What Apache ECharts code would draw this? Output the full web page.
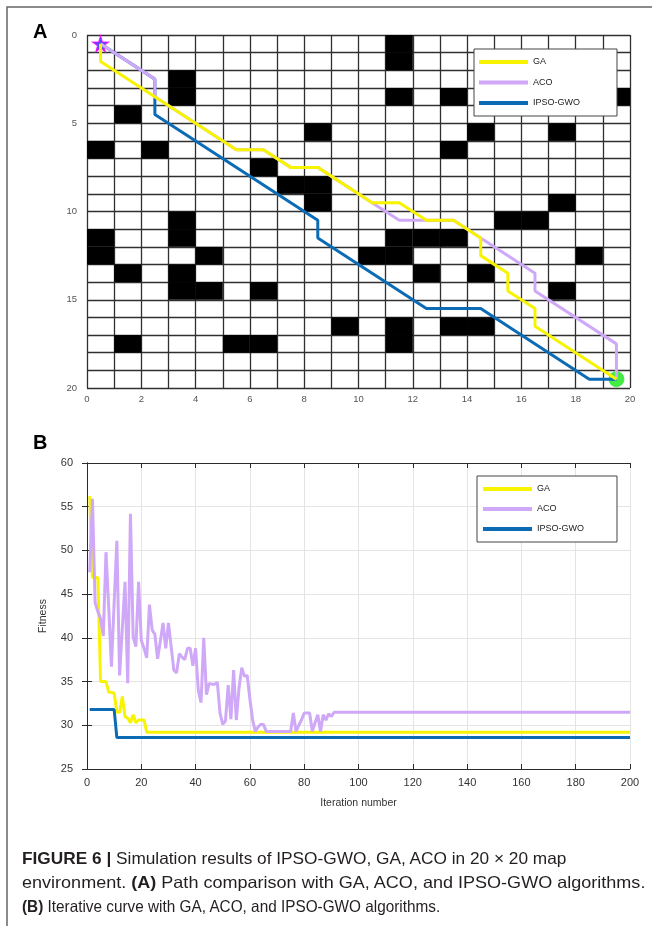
<!doctype html>
<html>
<head>
<meta charset="utf-8">
<title>IPSO-GWO path and fitness</title>
<style>
    html, body { margin: 0; padding: 0; background: #fff; }
    #main { position: absolute; left: 0; top: 0; width: 652px; height: 926px; }
    #caption {
        position: absolute; left: 22px; top: 846px;
        font-family: 'Liberation Sans', Arial, sans-serif;
        font-size: 16.5px; line-height: 24px; color: #231f20;
    }
    #caption .ln { white-space: nowrap; transform-origin: 0 0; height: 24px; }
    #caption .ln span { display: inline-block; }
</style>
</head>
<body>
<div id="main"></div>
<div id="caption">
    <div class="ln"><span><b>FIGURE 6 |</b> Simulation results of IPSO-GWO, GA, ACO in 20 × 20 map</span></div>
    <div class="ln"><span>environment. <b>(A)</b> Path comparison with GA, ACO, and IPSO-GWO algorithms.</span></div>
    <div class="ln"><span><b>(B)</b> Iterative curve with GA, ACO, and IPSO-GWO algorithms.</span></div>
</div>
<script src="https://cdn.jsdelivr.net/npm/echarts@6/dist/echarts.min.js"></script>
<script>
// map cells that are blocked, [column, row], row 0 at the top
var obstacles = [
    [11, 0], [11, 1], [3, 2], [3, 3], [11, 3], [13, 3], [19, 3], [1, 4],
    [8, 5], [14, 5], [17, 5], [0, 6], [2, 6], [13, 6], [6, 7], [7, 8], [8, 8],
    [8, 9], [17, 9], [3, 10], [15, 10], [16, 10], [0, 11], [3, 11], [11, 11],
    [12, 11], [13, 11], [0, 12], [4, 12], [10, 12], [11, 12], [18, 12],
    [1, 13], [3, 13], [12, 13], [14, 13], [3, 14], [4, 14], [6, 14], [17, 14],
    [9, 16], [11, 16], [13, 16], [14, 16], [1, 17], [5, 17], [6, 17], [11, 17]
];

// planned paths (cell centres)
var pathGA = [[0.5, 0.5], [0.5, 1.5], [5.5, 6.5], [6.5, 6.5], [7.5, 7.5], [8.5, 7.5],
    [10.5, 9.5], [11.5, 9.5], [12.5, 10.5], [13.5, 10.5], [14.5, 11.5], [14.5, 12.5],
    [15.5, 13.5], [15.5, 14.5], [16.5, 15.5], [16.5, 16.5], [19.5, 19.5]];
var pathACO = [[0.5, 0.5], [2.5, 2.5], [2.5, 3.5], [5.5, 6.5], [6.5, 6.5], [7.5, 7.5],
    [8.5, 7.5], [10.5, 9.5], [11.5, 10.5], [12.5, 10.5], [13.5, 10.5], [14.5, 11.5],
    [16.5, 13.5], [16.5, 14.5], [19.5, 17.5], [19.5, 19.5]];
var pathIPSO = [[0.5, 0.5], [2.5, 2.5], [2.5, 4.5], [8.5, 10.5], [8.5, 11.5],
    [12.5, 15.5], [14.5, 15.5], [18.5, 19.5], [19.5, 19.5]];
var startPoint = [[0.5, 0.5]];
var goalPoint = [[19.5, 19.5]];

// fitness per iteration, [iteration, fitness]
var fitGA = [[1, 56.2], [2, 46.9], [4, 46.9], [5, 35], [7, 35], [8, 33.8], [10, 33.7],
    [11, 31.5], [12, 31.5], [13, 33.3], [14, 31.0], [15, 30.8], [16, 30.3], [17, 31.2],
    [18, 30.3], [19, 30.6], [21, 30.6], [22, 29.2], [200, 29.2]];
var fitACO = [[1, 47.5], [2, 55.9], [3, 44.0], [4, 43.0], [5, 42.2], [6, 40.2], [7, 49.8],
    [8, 43.5], [9, 36.7], [10, 44.0], [11, 51.1], [12, 35.7], [13, 41.0], [14, 46.4],
    [15, 34.8], [16, 54.2], [17, 40.1], [18, 39.0], [19, 46.4], [20, 39.7], [21, 38.8],
    [22, 37.7], [23, 43.8], [24, 40.9], [25, 40.4], [26, 37.6], [27, 39.6], [28, 41.7],
    [29, 38.8], [30, 41.7], [31, 39.0], [32, 36.3], [33, 36.0], [34, 38.2], [35, 37.8],
    [36, 37.5], [37, 38.8], [38, 38.8], [39, 36.8], [40, 38.8], [41, 34.0], [42, 32.6],
    [43, 40.0], [44, 33.5], [45, 34.8], [46, 34.7], [47, 34.7], [48, 34.9], [49, 31.4],
    [50, 30.1], [51, 30.5], [52, 34.6], [53, 30.7], [54, 36.3], [55, 30.6], [56, 34.3],
    [57, 36.6], [58, 35.6], [59, 35.7], [60, 33.0], [61, 30.6], [62, 29.3], [63, 29.8],
    [64, 30.1], [65, 30.1], [66, 29.3], [75, 29.3], [76, 31.4], [77, 29.3], [78, 30.0],
    [79, 30.6], [80, 31.4], [82, 31.4], [83, 29.3], [84, 30.3], [85, 31.2], [86, 29.3],
    [87, 31.2], [88, 30.6], [89, 31.3], [90, 31.0], [91, 31.5], [200, 31.5]];
var fitIPSO = [[1, 31.8], [10, 31.8], [11, 28.6], [200, 28.6]];

var names = ['GA', 'ACO', 'IPSO-GWO'];
var colors = { 'GA': '#f8f400', 'ACO': '#cfa8f8', 'IPSO-GWO': '#0b6cb5' };

var chart = echarts.init(document.getElementById('main'));

var gridLine = { color: '#303030', width: 1.3 };
var labelA = { color: '#555', fontSize: 9.5 };
var labelB = { color: '#333', fontSize: 11 };
var boxLine = { show: true, lineStyle: { color: '#2a2a2a', width: 1 } };
var tickIn = { show: true, inside: true, length: 5, lineStyle: { color: '#2a2a2a' } };

function pathSeries(name, data) {
    return {
        type: 'line', name: name, xAxisIndex: 0, yAxisIndex: 0, data: data,
        symbol: 'none', lineStyle: { color: colors[name], width: 3 },
        itemStyle: { color: colors[name] }
    };
}
function fitSeries(name, data) {
    return {
        type: 'line', name: name, xAxisIndex: 1, yAxisIndex: 1, data: data,
        symbol: 'none', lineStyle: { color: colors[name], width: 3 },
        itemStyle: { color: colors[name] }
    };
}
function legendAt(left, top, padding, gap) {
    return {
        data: names, orient: 'vertical', left: left, top: top, padding: padding, itemGap: gap,
        icon: 'rect', itemWidth: 49, itemHeight: 4, itemTextGap: 5,
        backgroundColor: '#fff', borderColor: '#444', borderWidth: 1,
        textStyle: { fontSize: 9, color: '#222', lineHeight: 8, padding: [0, 0, 4, 0] }
    };
}

chart.setOption({
    animation: false,
    textStyle: { fontFamily: 'Liberation Sans, Arial, sans-serif' },
    grid: [
        { left: 87, top: 35, width: 543, height: 353 },
        { left: 87, top: 463, width: 543, height: 306 }
    ],
    legend: [
        legendAt(474, 49, [7, 37, 7, 5], 8.5),
        legendAt(477, 476, [7, 33, 7, 6], 8)
    ],
    xAxis: [
        {
            gridIndex: 0, type: 'value', min: 0, max: 20, interval: 2,
            axisLine: { show: false }, axisTick: { show: false },
            axisLabel: Object.assign({ margin: 6 }, labelA),
            splitLine: { show: true, lineStyle: gridLine },
            minorTick: { show: false, splitNumber: 2 },
            minorSplitLine: { show: true, lineStyle: gridLine }
        },
        {
            gridIndex: 1, type: 'value', min: 0, max: 200, interval: 20,
            name: 'Iteration number', nameLocation: 'middle', nameGap: 29,
            nameTextStyle: { fontSize: 10.5, color: '#333' },
            axisLine: boxLine, axisTick: tickIn,
            axisLabel: Object.assign({ margin: 8 }, labelB),
            splitLine: { show: true, lineStyle: { color: '#e4e4e4', width: 1 } }
        },
        {
            gridIndex: 1, type: 'value', min: 0, max: 200, interval: 20, position: 'top',
            axisLine: boxLine, axisTick: tickIn, axisLabel: { show: false },
            splitLine: { show: false }
        }
    ],
    yAxis: [
        {
            gridIndex: 0, type: 'value', min: 0, max: 20, interval: 5, inverse: true,
            axisLine: { show: false }, axisTick: { show: false },
            axisLabel: Object.assign({ margin: 10 }, labelA),
            splitLine: { show: true, lineStyle: gridLine },
            minorTick: { show: false, splitNumber: 5 },
            minorSplitLine: { show: true, lineStyle: gridLine }
        },
        {
            gridIndex: 1, type: 'value', min: 25, max: 60, interval: 5,
            name: 'Fitness', nameLocation: 'middle', nameGap: 38,
            nameTextStyle: { fontSize: 10.5, color: '#333' },
            axisLine: boxLine, axisTick: tickIn,
            axisLabel: Object.assign({ margin: 14 }, labelB),
            splitLine: { show: true, lineStyle: { color: '#e4e4e4', width: 1 } }
        },
        {
            gridIndex: 1, type: 'value', min: 25, max: 60, interval: 5, position: 'right',
            axisLine: boxLine, axisTick: tickIn, axisLabel: { show: false },
            splitLine: { show: false }
        }
    ],
    graphic: [
        { type: 'polyline', shape: { points: [[7, 926], [7, 7], [652, 7]] },
          style: { stroke: '#666', lineWidth: 1.5, fill: null } },
        { type: 'text', left: 33, top: 22, style: { text: 'A', font: 'bold 20px Liberation Sans', fill: '#000' } },
        { type: 'text', left: 33, top: 433, style: { text: 'B', font: 'bold 20px Liberation Sans', fill: '#000' } }
    ],
    series: [
        {
            type: 'custom', name: 'obstacle', xAxisIndex: 0, yAxisIndex: 0,
            data: obstacles, encode: { x: 0, y: 1 },
            renderItem: function (params, api) {
                var p0 = api.coord([api.value(0), api.value(1)]);
                var p1 = api.coord([api.value(0) + 1, api.value(1) + 1]);
                return {
                    type: 'rect',
                    shape: {
                        x: Math.min(p0[0], p1[0]), y: Math.min(p0[1], p1[1]),
                        width: Math.abs(p1[0] - p0[0]), height: Math.abs(p1[1] - p0[1])
                    },
                    style: { fill: '#000' }
                };
            }
        },
        pathSeries('IPSO-GWO', pathIPSO),
        pathSeries('ACO', pathACO),
        pathSeries('GA', pathGA),
        {
            type: 'scatter', name: 'start', xAxisIndex: 0, yAxisIndex: 0, data: startPoint,
            symbol: 'path://M50,0 L61,35 L98,35 L68,57 L79,91 L50,70 L21,91 L32,57 L2,35 L39,35 Z',
            symbolSize: 16,
            itemStyle: { color: '#2020ff', borderColor: '#ff00ff', borderWidth: 1.2 }
        },
        {
            type: 'scatter', name: 'goal', xAxisIndex: 0, yAxisIndex: 0, data: goalPoint,
            symbol: 'circle', symbolSize: 16, itemStyle: { color: '#16e616' }
        },
        fitSeries('GA', fitGA),
        fitSeries('ACO', fitACO),
        fitSeries('IPSO-GWO', fitIPSO)
    ]
});

// fit each caption line to the width it has in the figure
var capWidths = [544, 623, 418];
var lines = document.querySelectorAll('#caption .ln');
for (var i = 0; i < lines.length; i++) {
    var w = lines[i].firstElementChild.offsetWidth;
    lines[i].style.transform = 'scaleX(' + (capWidths[i] / w) + ')';
}
</script>
</body>
</html>
